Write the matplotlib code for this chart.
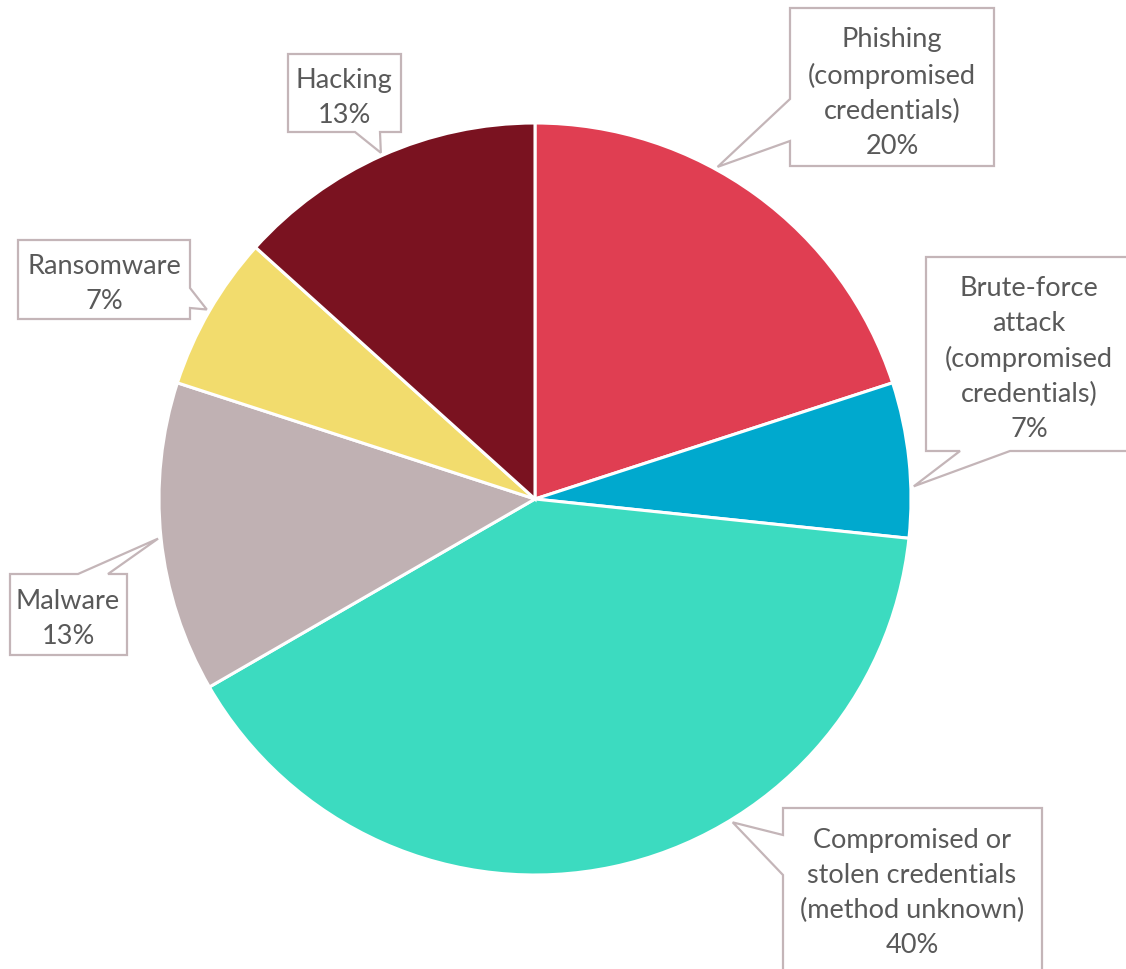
import numpy as np
import matplotlib.pyplot as plt
from matplotlib.patches import Polygon

plt.rcParams['font.family'] = ['Lato', 'DejaVu Sans']

categories = ["Phishing\n(compromised\ncredentials)",
              "Brute-force\nattack\n(compromised\ncredentials)",
              "Compromised or\nstolen credentials\n(method unknown)",
              "Malware",
              "Ransomware",
              "Hacking"]
counts = [3, 1, 6, 2, 1, 2]
colors = ["#E03E52", "#00A9CE", "#3CDBC0", "#C0B1B3", "#F2DC6D", "#7A1220"]

W, H = 1126, 970
cx, cy, radius = 535, 500, 376

# callout layout in pixel coords (y down): box, tail side, tail span, where on wedge the tip sits
callouts = [
    dict(box=(790, 9, 994, 167), side="left", span=(100, 142), frac=0.6),
    dict(box=(926, 258, 1140, 452), side="bottom", span=(960, 1010), frac=0.33),
    dict(box=(783, 809, 1042, 990), side="left", span=(836, 876), frac=0.635),
    dict(box=(10, 575, 127, 656), side="top", span=(78, 108), frac=0.5),
    dict(box=(18, 241, 190, 320), side="right", span=(289, 309), frac=0.5),
    dict(box=(288, 55, 401, 133), side="bottom", span=(355, 380), frac=0.5),
]
text_centers = [(892, 93), (1029, 359), (912, 893), (68, 619), (104, 284), (344, 98)]


def callout_shape(box, side, span, tip):
    x0, y0, x1, y1 = box
    a, b = span
    if side == "left":
        pts = [(x0, y0), (x1, y0), (x1, y1), (x0, y1), (x0, b), tip, (x0, a)]
    elif side == "right":
        pts = [(x0, y0), (x1, y0), (x1, a), tip, (x1, b), (x1, y1), (x0, y1)]
    elif side == "top":
        pts = [(x0, y0), (a, y0), tip, (b, y0), (x1, y0), (x1, y1), (x0, y1)]
    else:
        pts = [(x0, y0), (x1, y0), (x1, y1), (b, y1), tip, (a, y1), (x0, y1)]
    return [(px, H - py) for px, py in pts]


fig = plt.figure(figsize=(W / 100, H / 100), dpi=100)
ax = fig.add_axes([0, 0, 1, 1])
wedges, _ = ax.pie(counts, colors=colors, startangle=90, counterclock=False,
                   center=(cx, H - cy), radius=radius,
                   wedgeprops=dict(edgecolor="white", linewidth=2.2))
ax.set_xlim(0, W)
ax.set_ylim(0, H)
ax.axis("off")

total = sum(counts)
for w, lab, n, c, tc in zip(wedges, categories, counts, callouts, text_centers):
    ang = np.radians(w.theta1 + (w.theta2 - w.theta1) * c["frac"])
    tip_x = cx + (radius + 3) * np.cos(ang)
    tip_y = cy - (radius + 3) * np.sin(ang)
    verts = callout_shape(c["box"], c["side"], c["span"], (tip_x, tip_y))
    ax.add_patch(Polygon(verts, closed=True, facecolor="white",
                         edgecolor="#C4B5B8", linewidth=1.6, zorder=3))
    pct = round(100 * n / total)
    ax.text(tc[0], H - tc[1], f"{lab}\n{pct}%", ha="center", va="center",
            multialignment="center", fontsize=19.5, color="#595959",
            linespacing=1.5, zorder=4)

fig.savefig("out.png", dpi=100)
